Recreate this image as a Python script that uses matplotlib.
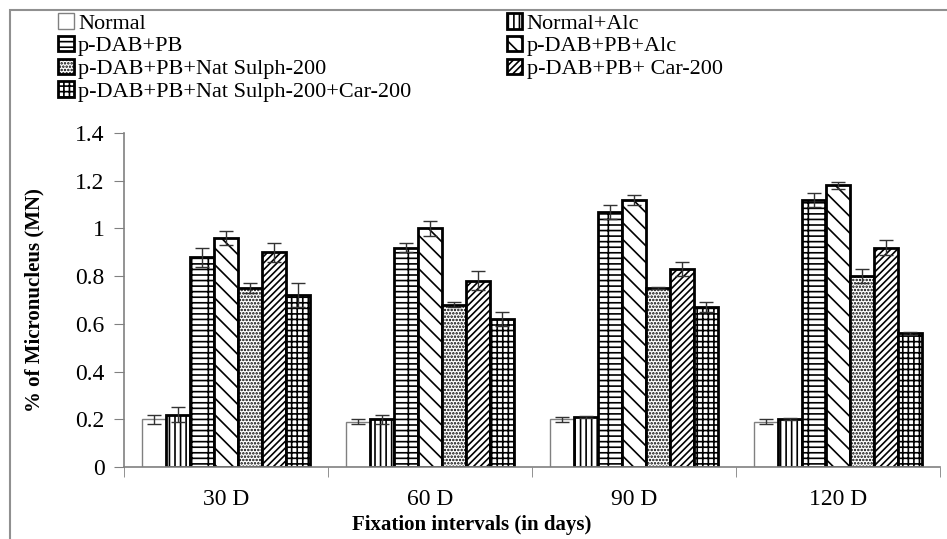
import matplotlib
matplotlib.use("Agg")
import matplotlib.pyplot as plt
import numpy as np
from matplotlib.patches import Rectangle

plt.rcParams['font.family'] = ['Liberation Serif', 'DejaVu Serif']
plt.rcParams['hatch.linewidth'] = 1.2

categories = ["30 D", "60 D", "90 D", "120 D"]
series = ["Normal", "Normal+Alc", "p-DAB+PB", "p-DAB+PB+Alc",
          "p-DAB+PB+Nat Sulph-200", "p-DAB+PB+ Car-200",
          "p-DAB+PB+Nat Sulph-200+Car-200"]
normal = [0.20, 0.19, 0.20, 0.19]
normal_alc = [0.22, 0.20, 0.21, 0.20]
pdab_pb = [0.88, 0.92, 1.07, 1.12]
pdab_pb_alc = [0.96, 1.00, 1.12, 1.18]
pdab_nat = [0.75, 0.68, 0.75, 0.80]
pdab_car = [0.90, 0.78, 0.83, 0.92]
pdab_nat_car = [0.72, 0.62, 0.67, 0.56]
err_normal = [0.02, 0.01, 0.01, 0.01]
err_normal_alc = [0.03, 0.02, 0.005, 0.005]
err_pdab_pb = [0.04, 0.02, 0.03, 0.03]
err_pdab_pb_alc = [0.03, 0.03, 0.02, 0.015]
err_pdab_nat = [0.02, 0.01, 0.005, 0.03]
err_pdab_car = [0.04, 0.04, 0.03, 0.03]
err_pdab_nat_car = [0.05, 0.03, 0.02, 0.005]

values = [normal, normal_alc, pdab_pb, pdab_pb_alc, pdab_nat, pdab_car, pdab_nat_car]
errors = [err_normal, err_normal_alc, err_pdab_pb, err_pdab_pb_alc, err_pdab_nat,
          err_pdab_car, err_pdab_nat_car]
hatches = [None, '|||', '---|', '\\\\', '.....', '/////', '+++']
edgecols = ['#808080', 'black', 'black', 'black', 'black', 'black', 'black']
lws = [1.0, 2.0, 2.0, 2.0, 2.0, 2.0, 2.0]

fig = plt.figure(figsize=(9.47, 5.39), dpi=100)
ax = fig.add_axes([124/947, 1-467/539, (940-124)/947, (467-133)/539])

x = np.arange(len(categories))
w = 0.117
handles = []
for i, (vals, errs) in enumerate(zip(values, errors)):
    off = (i - 3) * w
    b = ax.bar(x + off, vals, w, color='white', edgecolor=edgecols[i], hatch=hatches[i],
               linewidth=lws[i], label=series[i], zorder=2)
    handles.append(b)
    ax.errorbar(x + off, vals, yerr=errs, fmt='none', ecolor='#333333',
                elinewidth=1.0, capsize=5, capthick=1.0, zorder=3)

ax.set_xlim(-0.5, 3.5)
ax.set_ylim(0, 1.4)
ax.set_yticks(np.arange(0, 1.41, 0.2))
ax.set_yticklabels(['0', '0.2', '0.4', '0.6', '0.8', '1', '1.2', '1.4'])
ax.set_xticks(x)
ax.set_xticklabels(categories)
ax.set_xticks(np.arange(-0.5, 3.6, 1), minor=True)
ax.tick_params(axis='x', which='major', length=0, labelsize=17, pad=16)
ax.tick_params(axis='x', which='minor', length=7, color='#808080', direction='out')
ax.tick_params(axis='y', length=7, color='#808080', labelsize=17, pad=7)
for s in ['top', 'right']:
    ax.spines[s].set_visible(False)
for s in ['left', 'bottom']:
    ax.spines[s].set_color('#808080')
    ax.spines[s].set_linewidth(1.2)

ax.set_xlabel("Fixation intervals (in days)", fontsize=15, fontweight='bold')
ax.xaxis.set_label_coords((472-124)/816, -0.145)
ax.set_ylabel("% of Micronucleus (MN)", fontsize=15, fontweight='bold')
ax.yaxis.set_label_coords(-0.097, 0.5)

order = [0, 2, 4, 6, 1, 3, 5]
leg = fig.legend([handles[k] for k in order], [series[k] for k in order],
                 loc='upper left', bbox_to_anchor=(58/947, 1-13/539), ncol=2,
                 frameon=False, fontsize=16, handlelength=0.7, handleheight=0.7,
                 handletextpad=0.2, columnspacing=4.3, labelspacing=0.1,
                 borderaxespad=0, borderpad=0)

fig.patches.append(Rectangle((10/947, -0.1), 1.2, 1 - 10/539 + 0.1,
                             transform=fig.transFigure, fill=False,
                             edgecolor='#909090', linewidth=1.5))

fig.savefig("out.png", dpi=100)
